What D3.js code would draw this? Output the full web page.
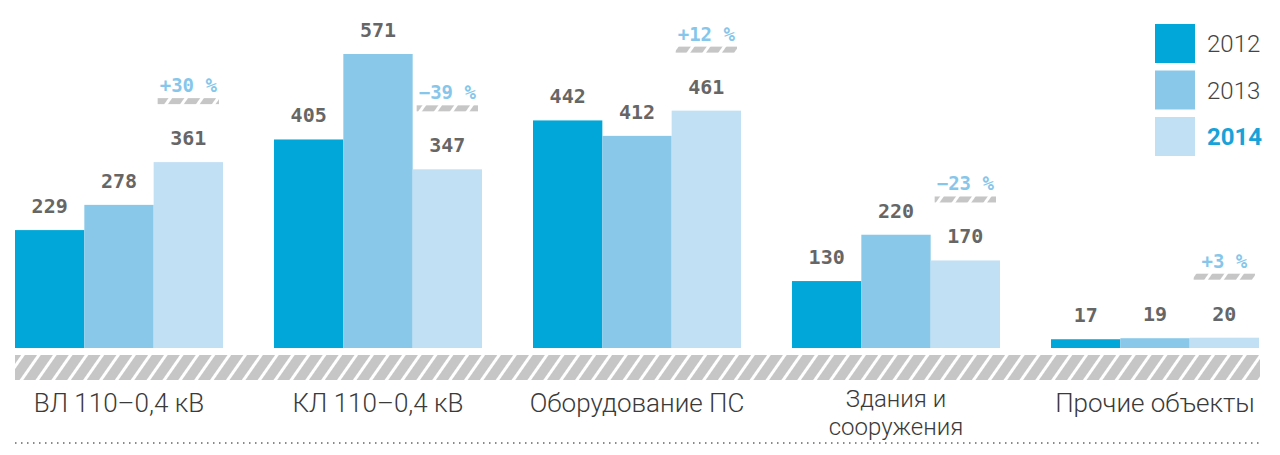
<!DOCTYPE html>
<html>
<head>
<meta charset="utf-8">
<script src="https://cdn.jsdelivr.net/npm/d3@7"></script>
<style>
  body { margin: 0; background: #fff; }
  svg { display: block; }
  .val { font-family: "DejaVu Sans Mono", monospace; font-size: 20px; font-weight: bold; fill: #666; }
  .pct { font-family: "DejaVu Sans Mono", monospace; font-size: 19px; font-weight: bold; fill: #86c6ea; }
  .cat { font-family: Roboto, "DejaVu Sans", sans-serif; font-weight: 300; font-size: 26px; fill: #3a3a3a; }
  .leg { font-family: Roboto, "DejaVu Sans", sans-serif; font-weight: 300; font-size: 24px; fill: #444; }
</style>
</head>
<body>
<svg class="chart" width="1280" height="455"></svg>
<script>
const categories = [["ВЛ 110–0,4 кВ"], ["КЛ 110–0,4 кВ"], ["Оборудование ПС"], ["Здания и", "сооружения"], ["Прочие объекты"]]
const years = ["2012", "2013", "2014"]
const values2012 = [229, 405, 442, 130, 17]
const values2013 = [278, 571, 412, 220, 19]
const values2014 = [361, 347, 461, 170, 20]
const changes = ["+30 %", "−39 %", "+12 %", "−23 %", "+3 %"]

const colors = ["#00a7d8", "#89c8e8", "#c1e0f4"]
const series = [values2012, values2013, values2014]

const svg = d3.select("svg.chart")

// hatch pattern for the base band and small strips
const defs = svg.append("defs")
const pat = defs.append("pattern")
  .attr("id", "hatch")
  .attr("patternUnits", "userSpaceOnUse")
  .attr("width", 13)
  .attr("height", 13)
  .attr("patternTransform", "rotate(35)")
pat.append("rect").attr("width", 13).attr("height", 13).attr("fill", "#c6c6c6")
pat.append("rect").attr("x", 0).attr("width", 3).attr("height", 13).attr("fill", "#fff")

const x0 = d3.scaleBand()
  .domain(d3.range(categories.length))
  .range([15, 1259])
  .paddingInner(0.197)
  .paddingOuter(0)

const x1 = d3.scaleBand()
  .domain(years)
  .range([0, x0.bandwidth()])

const y = d3.scaleLinear()
  .domain([0, 571])
  .range([348, 54])

const groups = svg.selectAll("g.grp")
  .data(categories)
  .enter()
  .append("g")
  .attr("class", "grp")
  .attr("transform", (d, i) => `translate(${x0(i)},0)`)

years.forEach((yr, k) => {
  groups.append("rect")
    .attr("x", x1(yr))
    .attr("width", x1.bandwidth())
    .attr("y", (d, i) => y(series[k][i]))
    .attr("height", (d, i) => y(0) - y(series[k][i]))
    .attr("fill", colors[k])

  groups.append("text")
    .attr("class", "val")
    .attr("text-anchor", "middle")
    .attr("x", x1(yr) + x1.bandwidth() / 2)
    .attr("y", (d, i) => y(series[k][i]) - 17)
    .text((d, i) => series[k][i])
})

// change strip + percent above 2014 bar
groups.append("rect")
  .attr("x", x1("2014") + 4)
  .attr("width", x1.bandwidth() - 8)
  .attr("y", (d, i) => y(values2014[i]) - 64)
  .attr("height", 6)
  .attr("fill", "url(#hatch)")

groups.append("text")
  .attr("class", "pct")
  .attr("text-anchor", "middle")
  .attr("x", x1("2014") + x1.bandwidth() / 2)
  .attr("y", (d, i) => y(values2014[i]) - 70)
  .text((d, i) => changes[i])

// base band
svg.append("rect")
  .attr("x", 15)
  .attr("y", 355)
  .attr("width", 1245)
  .attr("height", 25)
  .attr("fill", "url(#hatch)")

// category labels (two-line label set a bit smaller so the lines stay apart)
groups.append("text")
  .attr("class", "cat")
  .attr("text-anchor", "middle")
  .attr("x", x0.bandwidth() / 2)
  .attr("y", d => d.length > 1 ? 407 : 412)
  .style("font-size", d => d.length > 1 ? "24px" : null)
  .selectAll("tspan")
  .data(d => d)
  .enter()
  .append("tspan")
  .attr("x", x0.bandwidth() / 2)
  .attr("dy", (d, i) => i === 0 ? 0 : 28)
  .text(d => d)

// dotted line
svg.append("line")
  .attr("x1", 15).attr("x2", 1260)
  .attr("y1", 443).attr("y2", 443)
  .attr("stroke", "#666")
  .attr("stroke-width", 1.5)
  .attr("stroke-dasharray", "1.5 4.5")

// legend
const legend = svg.selectAll("g.leg")
  .data(years)
  .enter()
  .append("g")
  .attr("transform", (d, i) => `translate(1155,${24 + i * 46.5})`)

legend.append("rect")
  .attr("width", 40)
  .attr("height", 39)
  .attr("fill", (d, i) => colors[i])

legend.append("text")
  .attr("class", "leg")
  .attr("x", 52)
  .attr("y", 28)
  .style("font-weight", (d, i) => i === 2 ? "bold" : null)
  .style("fill", (d, i) => i === 2 ? "#17a3d9" : null)
  .text(d => d)
</script>
</body>
</html>
